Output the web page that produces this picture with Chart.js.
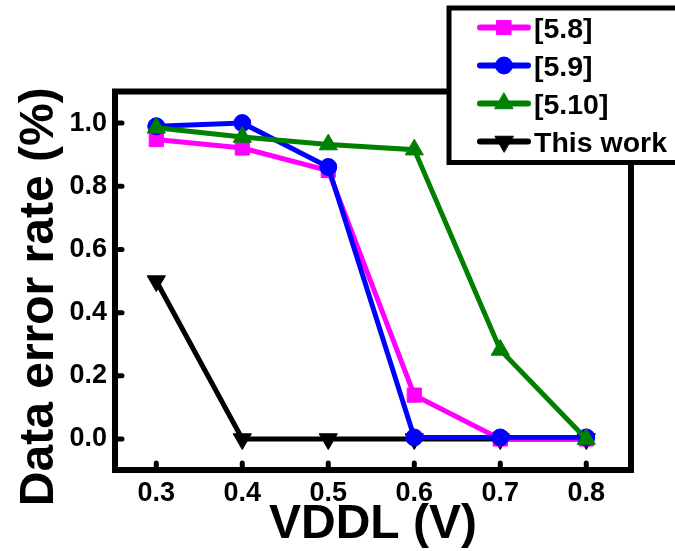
<!DOCTYPE html>
<html>
<head>
<meta charset="utf-8">
<script src="https://cdn.jsdelivr.net/npm/chart.js@4.4.1/dist/chart.umd.min.js"></script>
<style>
  html, body { margin: 0; padding: 0; background: #fff; }
  canvas { display: block; }
</style>
</head>
<body>
<canvas id="errorChart" width="675" height="551"></canvas>
<script>
// Supply voltage sweep (V)
const vddl = [0.3, 0.4, 0.5, 0.6, 0.7, 0.8];

// Data error rate per design at each VDDL
const ref58 = [0.948, 0.921, 0.850, 0.139, 0.0, 0.0];
const ref59 = [0.990, 1.0, 0.861, 0.005, 0.005, 0.005];
const ref510 = [0.985, 0.956, 0.932, 0.916, 0.282, 0.0];
const thisWork = [0.5, 0.0, 0.0, 0.0, 0.0, 0.0];

const seriesNames = ['[5.8]', '[5.9]', '[5.10]', 'This work'];

const xTicks = [0.3, 0.4, 0.5, 0.6, 0.7, 0.8];
const yTicks = [0.0, 0.2, 0.4, 0.6, 0.8, 1.0];

const xTitle = 'VDDL (V)';
const yTitle = 'Data error rate (%)';

const FONT = '"Liberation Sans", Arial, sans-serif';

function toPoints(values) {
    return vddl.map((x, i) => ({ x: x, y: values[i] }));
}

function makeSeries(label, values, color, style, radius, order, rotation) {
    return {
        label: label,
        data: toPoints(values),
        borderColor: color,
        backgroundColor: color,
        borderWidth: 5,
        pointStyle: style,
        pointRadius: radius,
        pointRotation: rotation || 0,
        pointBackgroundColor: color,
        pointBorderColor: color,
        pointBorderWidth: 1,
        tension: 0,
        order: order
    };
}

// Black frame around the plot with short inward ticks
const frameAndTicks = {
    id: 'frameAndTicks',
    afterDatasetsDraw(chart) {
        const { ctx, chartArea: a, scales: { x, y } } = chart;
        ctx.save();
        ctx.strokeStyle = '#000';
        ctx.lineWidth = 6;
        ctx.strokeRect(a.left, a.top, a.right - a.left, a.bottom - a.top);
        ctx.lineWidth = 5;
        ctx.lineCap = 'round';
        ctx.beginPath();
        xTicks.forEach(v => {
            const px = x.getPixelForValue(v);
            ctx.moveTo(px, a.bottom);
            ctx.lineTo(px, a.bottom - 7);
        });
        yTicks.forEach(v => {
            const py = y.getPixelForValue(v);
            ctx.moveTo(a.left, py);
            ctx.lineTo(a.left + 7, py);
        });
        ctx.stroke();
        ctx.restore();
    }
};

// Axis titles
const axisTitles = {
    id: 'axisTitles',
    afterDraw(chart) {
        const { ctx, chartArea: a } = chart;
        ctx.save();
        ctx.fillStyle = '#000';
        ctx.font = 'bold 48px ' + FONT;
        ctx.textAlign = 'center';
        ctx.textBaseline = 'alphabetic';
        ctx.fillText(xTitle, (a.left + a.right) / 2, a.bottom + 68);
        ctx.translate(53, (a.top + a.bottom) / 2 + 16);
        ctx.rotate(-Math.PI / 2);
        ctx.fillText(yTitle, 0, 0);
        ctx.restore();
    }
};

// Boxed legend in the top right corner
const boxLegend = {
    id: 'boxLegend',
    afterDraw(chart) {
        const ctx = chart.ctx;
        ctx.save();
        ctx.fillStyle = '#fff';
        ctx.fillRect(449, 8, 260, 154.5);
        ctx.lineWidth = 5;
        ctx.strokeStyle = '#000';
        ctx.strokeRect(449, 8, 260, 154.5);

        chart.data.datasets.forEach((ds, i) => {
            const cy = 27.5 + i * 38;
            ctx.strokeStyle = ds.borderColor;
            ctx.lineWidth = 6;
            ctx.lineCap = 'round';
            ctx.beginPath();
            ctx.moveTo(480, cy);
            ctx.lineTo(528, cy);
            ctx.stroke();

            ctx.fillStyle = ds.pointBackgroundColor;
            ctx.strokeStyle = ds.pointBorderColor;
            ctx.lineWidth = ds.pointBorderWidth;
            Chart.helpers.drawPoint(ctx, {
                pointStyle: ds.pointStyle,
                radius: ds.pointRadius,
                rotation: ds.pointRotation,
                borderWidth: ds.pointBorderWidth
            }, 504, cy);

            ctx.fillStyle = '#000';
            ctx.font = 'bold 28.5px ' + FONT;
            ctx.textAlign = 'left';
            ctx.textBaseline = 'alphabetic';
            ctx.fillText(ds.label, 534, cy + 10);
        });
        ctx.restore();
    }
};

const tickFont = { family: FONT, size: 27, weight: 'bold' };

new Chart(document.getElementById('errorChart'), {
    type: 'line',
    data: {
        datasets: [
            makeSeries(seriesNames[0], ref58, '#ff00ff', 'rect', 10, 3),
            makeSeries(seriesNames[1], ref59, '#0000ff', 'circle', 8.5, 2),
            makeSeries(seriesNames[2], ref510, '#008000', 'triangle', 10.5, 1),
            makeSeries(seriesNames[3], thisWork, '#000000', 'triangle', 10.5, 4, 180)
        ]
    },
    options: {
        responsive: false,
        animation: false,
        events: [],
        layout: { padding: { top: 91.5, right: 44, bottom: 0, left: 0 } },
        plugins: {
            legend: { display: false },
            tooltip: { enabled: false }
        },
        scales: {
            x: {
                type: 'linear',
                min: 0.252,
                max: 0.852,
                afterBuildTicks: s => { s.ticks = xTicks.map(v => ({ value: v })); },
                afterFit: s => { s.height = 81; },
                grid: { display: false, drawTicks: false },
                border: { display: false },
                ticks: {
                    autoSkip: false,
                    maxRotation: 0,
                    padding: 7,
                    color: '#000',
                    font: tickFont,
                    callback: v => v.toFixed(1)
                }
            },
            y: {
                type: 'linear',
                min: -0.098,
                max: 1.1,
                afterBuildTicks: s => { s.ticks = yTicks.map(v => ({ value: v })); },
                afterFit: s => { s.width = 115; },
                grid: { display: false, drawTicks: false },
                border: { display: false },
                ticks: {
                    autoSkip: false,
                    padding: 8,
                    color: '#000',
                    font: tickFont,
                    callback: v => v.toFixed(1)
                }
            }
        }
    },
    plugins: [frameAndTicks, axisTitles, boxLegend]
});
</script>
</body>
</html>
